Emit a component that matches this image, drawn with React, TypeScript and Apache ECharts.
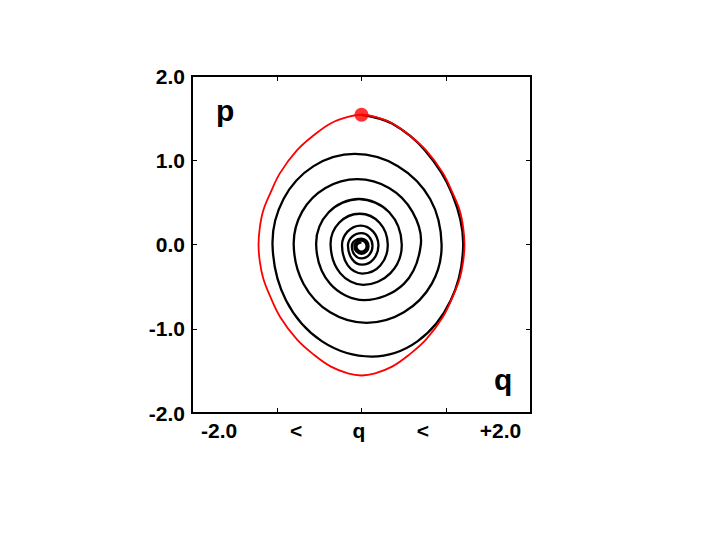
import React, { useEffect, useRef } from "react";
import * as echarts from "echarts";

// Tick values and labels
const Y_TICKS = [-2, -1, 0, 1, 2];
const Y_LABELS = ["-2.0", "-1.0", "0.0", "1.0", "2.0"];
const X_LABEL_VALUES = [-1.68, -0.77, -0.03, 0.725, 1.64];
const X_LABELS = ["-2.0", "<", "q", "<", "+2.0"];

// Start point of the trajectory
const START_POINT: number[][] = [[0, 1.54]];

// Undamped orbit (red), clockwise from the start point (closed loop)
const RED_ORBIT: number[][] = [
  [0, 1.54], [0.16, 1.515], [0.36, 1.44], [0.56, 1.3], [0.76, 1.12], [0.96, 0.85],
  [1.08, 0.6], [1.16, 0.4], [1.2, 0.2], [1.215, 0], [1.2, -0.2], [1.16, -0.4],
  [1.08, -0.61], [0.96, -0.86], [0.76, -1.13], [0.56, -1.31], [0.36, -1.45],
  [0.16, -1.53], [0, -1.555], [-0.16, -1.53], [-0.36, -1.45], [-0.56, -1.31],
  [-0.76, -1.13], [-0.96, -0.86], [-1.08, -0.61], [-1.16, -0.4], [-1.2, -0.2],
  [-1.215, 0], [-1.2, 0.2], [-1.16, 0.4], [-1.08, 0.6], [-0.96, 0.85],
  [-0.76, 1.12], [-0.56, 1.3], [-0.36, 1.44], [-0.16, 1.515],
];

// Damped trajectory (black), spiralling inward
const SPIRAL: number[][] = [
  [0, 1.54], [0.36, 1.435], [0.75, 1.115], [1.07, 0.6], [1.2, 0], [1.055, -0.66],
  [0.66, -1.15], [0.12, -1.33], [-0.465, -1.15], [-0.89, -0.665], [-1.05, 0],
  [-0.92, 0.54], [-0.565, 0.93], [-0.08, 1.075], [0.43, 0.93], [0.81, 0.54],
  [0.945, 0], [0.83, -0.465], [0.5, -0.805], [0.06, -0.93], [-0.37, -0.805],
  [-0.685, -0.465], [-0.8, 0], [-0.7, 0.39], [-0.425, 0.67], [-0.05, 0.775],
  [0.325, 0.67], [0.6, 0.39], [0.7, 0],
  [0.5, -0.467], [0.03, -0.66], [-0.37, -0.467], [-0.535, 0], [-0.387, 0.382],
  [-0.03, 0.54], [0.327, 0.382], [0.475, 0], [0.342, -0.34], [0.02, -0.48],
  [-0.252, -0.34], [-0.365, 0], [-0.264, 0.258], [-0.02, 0.365], [0.213, 0.258],
  [0.31, 0], [0.222, -0.25], [0.01, -0.345], [-0.16, -0.25], [-0.23, -0.01],
  [-0.165, 0.153], [-0.01, 0.225], [0.138, 0.153], [0.2, -0.01], [0.141, -0.175],
  [0.005, -0.24], [-0.11, -0.175], [-0.16, -0.015], [-0.113, 0.09], [0, 0.135],
  [0.092, 0.09], [0.13, -0.015], [0.092, -0.123], [0, -0.165], [-0.081, -0.123],
  [-0.114, -0.02], [-0.081, 0.044], [0, 0.07], [0.059, 0.044], [0.083, -0.02],
  [0.059, -0.084], [0, -0.11], [-0.059, -0.084], [-0.083, -0.02], [-0.059, 0.026],
  [0, 0.045], [0.042, 0.026], [0.06, -0.02], [0.042, -0.066], [0, -0.085],
  [-0.042, -0.066], [-0.06, -0.02], [-0.04, 0.012], [0, 0.025],
];

const FONT = '"Liberation Sans", Arial, Helvetica, sans-serif';

export default function App() {
  const ref = useRef<HTMLDivElement>(null);

  useEffect(() => {
    if (!ref.current) return;
    const chart = echarts.init(ref.current, undefined, { renderer: "svg" });
    const labelStyle = {
      fontSize: 21,
      fontWeight: "bold" as const,
      color: "#000",
      fontFamily: FONT,
    };
    const tick = {
      inside: true,
      length: 5,
      lineStyle: { color: "#000", width: 1 },
    };
    const baseAxis = {
      type: "value" as const,
      min: -2,
      max: 2,
      interval: 1,
      axisLine: { show: false, onZero: false },
      splitLine: { show: false },
      axisTick: tick,
    };
    const curve = (
      pts: number[][],
      closed: boolean,
      color: string,
      width: number,
      smooth: number
    ) =>
      (params: any, api: any) => {
        if (params.dataIndex !== 0) return null;
        return {
          type: closed ? "polygon" : "polyline",
          shape: { points: pts.map((p) => api.coord(p)), smooth },
          style: { stroke: color, lineWidth: width, fill: "none" },
        };
      };
    chart.setOption({
      animation: false,
      backgroundColor: "#fff",
      grid: {
        left: 192,
        right: 186,
        top: 76,
        bottom: 141,
        show: true,
        borderColor: "#000",
        borderWidth: 2,
        backgroundColor: "transparent",
      },
      xAxis: [
        {
          ...baseAxis,
          position: "bottom",
          axisLabel: {
            ...labelStyle,
            margin: 7,
            customValues: X_LABEL_VALUES,
            formatter: (v: number) => {
              let best = 0;
              X_LABEL_VALUES.forEach((p, i) => {
                if (Math.abs(p - v) < Math.abs(X_LABEL_VALUES[best] - v)) best = i;
              });
              return X_LABELS[best];
            },
          },
        },
        { ...baseAxis, position: "top", axisLabel: { show: false } },
      ],
      yAxis: [
        {
          ...baseAxis,
          position: "left",
          axisLabel: {
            ...labelStyle,
            margin: 7,
            formatter: (v: number) => {
              const i = Y_TICKS.indexOf(Math.round(v));
              return i >= 0 ? Y_LABELS[i] : "";
            },
          },
        },
        { ...baseAxis, position: "right", axisLabel: { show: false } },
      ],
      series: [
        {
          type: "custom",
          data: SPIRAL,
          encode: { x: 0, y: 1 },
          renderItem: curve(SPIRAL, false, "#000", 2.3, 0.36),
          z: 2,
        },
        {
          type: "custom",
          data: RED_ORBIT,
          encode: { x: 0, y: 1 },
          renderItem: curve(RED_ORBIT, true, "#f00", 1.8, 0.38),
          z: 3,
        },
        {
          type: "scatter",
          data: START_POINT,
          symbol: "circle",
          symbolSize: 14,
          itemStyle: { color: "#f00" },
          z: 4,
        },
      ],
      graphic: [
        {
          type: "text",
          x: 216,
          y: 110,
          style: {
            text: "p",
            fill: "#000",
            font: `bold 30px ${FONT}`,
            textAlign: "left",
            textVerticalAlign: "middle",
          },
        },
        {
          type: "text",
          x: 494,
          y: 379,
          style: {
            text: "q",
            fill: "#000",
            font: `bold 30px ${FONT}`,
            textAlign: "left",
            textVerticalAlign: "middle",
          },
        },
      ],
    });
    return () => chart.dispose();
  }, []);

  return (
    <div
      ref={ref}
      style={{ position: "fixed", left: 0, top: 0, width: 717, height: 554 }}
    />
  );
}
